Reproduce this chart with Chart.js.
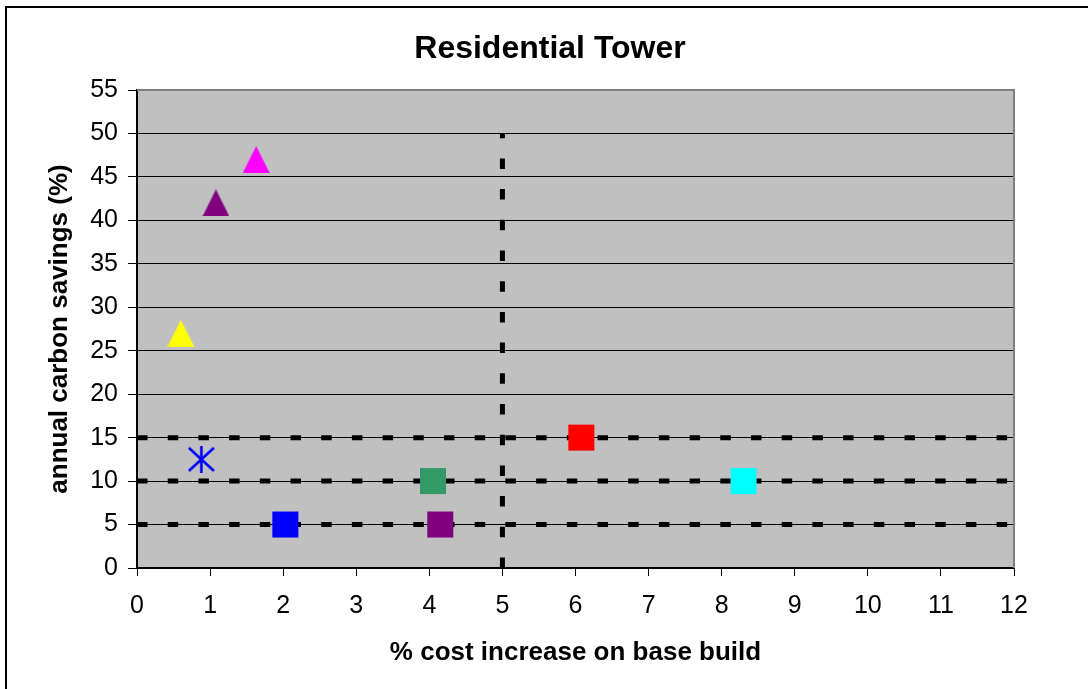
<!DOCTYPE html>
<html>
<head>
<meta charset="utf-8">
<title>Residential Tower</title>
<script src="https://cdn.jsdelivr.net/npm/chart.js@4.4.1/dist/chart.umd.min.js"></script>
<style>
    html, body { margin: 0; padding: 0; background: #fff; overflow: hidden; }
    #frame {
        position: absolute; left: 5px; top: 6px;
        width: 1200px; height: 900px;
        border: 2px solid #000;
    }
    #chart { position: absolute; left: 0; top: 0; }
</style>
</head>
<body>
<div id="frame"></div>
<canvas id="chart" width="1088" height="689"></canvas>
<script>
    // Values
    const costIncrease = [0.6, 1.08, 1.63, 0.88, 2.03, 4.05, 4.15, 6.08, 8.3];
    const carbonSavings = [27, 42, 47, 12.5, 5, 10, 5, 15, 10];
    const markerShapes = ['triangle', 'triangle', 'triangle', 'star', 'square', 'square', 'square', 'square', 'square'];
    const markerColours = ['#FFFF00', '#800080', '#FF00FF', '#0000FF', '#0000FF', '#339966', '#800080', '#FF0000', '#00FFFF'];

    // Dashed reference lines
    const savingsThresholds = [5, 10, 15];
    const costThresholds = [5];
    const costSpan = [0, 12];
    const savingsSpan = [0, 50];

    // Axis ranges
    const xRange = [0, 12];
    const yRange = [0, 55];
    const xStep = 1;
    const yStep = 5;

    const FONT = "'Liberation Sans', Arial, sans-serif";

    function makeTriangle(colour) {
        const c = document.createElement('canvas');
        c.width = 27; c.height = 27;
        const ctx = c.getContext('2d');
        ctx.fillStyle = colour;
        ctx.beginPath();
        ctx.moveTo(13.5, 0);
        ctx.lineTo(27, 27);
        ctx.lineTo(0, 27);
        ctx.closePath();
        ctx.fill();
        return c;
    }

    function makeStar(colour) {
        const c = document.createElement('canvas');
        c.width = 27; c.height = 27;
        const ctx = c.getContext('2d');
        ctx.strokeStyle = colour;
        ctx.lineWidth = 2.6;
        ctx.beginPath();
        ctx.moveTo(13.5, 0); ctx.lineTo(13.5, 27);
        ctx.moveTo(1, 2); ctx.lineTo(26, 25);
        ctx.moveTo(26, 2); ctx.lineTo(1, 25);
        ctx.stroke();
        return c;
    }

    // one dataset per marker, drawn on top of the dashed lines
    const markerSets = costIncrease.map((x, i) => {
        const shape = markerShapes[i];
        const colour = markerColours[i];
        let style = 'rect';
        if (shape === 'triangle') style = makeTriangle(colour);
        if (shape === 'star') style = makeStar(colour);
        return {
            data: [{ x: x, y: carbonSavings[i] }],
            pointStyle: style,
            pointRadius: shape === 'square' ? 18.4 : 13,
            pointBackgroundColor: colour,
            pointBorderWidth: 0,
            order: 1
        };
    });

    const dashStyle = {
        showLine: true,
        borderColor: '#000',
        borderWidth: 5,
        borderDash: [10.5, 20.2],
        borderCapStyle: 'butt',
        pointRadius: 0,
        order: 2
    };

    const lineSets = [];
    savingsThresholds.forEach(v => {
        lineSets.push(Object.assign({
            data: [{ x: costSpan[0], y: v }, { x: costSpan[1], y: v }]
        }, dashStyle));
    });
    costThresholds.forEach(v => {
        lineSets.push(Object.assign({
            data: [{ x: v, y: savingsSpan[0] }, { x: v, y: savingsSpan[1] }]
        }, dashStyle));
    });

    // grey plot area and its grey frame
    const plotArea = {
        id: 'plotArea',
        beforeDraw(chart) {
            const a = chart.chartArea;
            const ctx = chart.ctx;
            ctx.save();
            ctx.fillStyle = '#C0C0C0';
            ctx.fillRect(a.left, a.top, a.right - a.left, a.bottom - a.top);
            ctx.restore();
        },
        beforeDatasetsDraw(chart) {
            const a = chart.chartArea;
            const ctx = chart.ctx;
            ctx.save();
            ctx.strokeStyle = '#808080';
            ctx.lineWidth = 2;
            ctx.beginPath();
            ctx.moveTo(a.left, a.top);
            ctx.lineTo(a.right, a.top);
            ctx.lineTo(a.right, a.bottom);
            ctx.stroke();
            ctx.restore();
        }
    };

    new Chart(document.getElementById('chart').getContext('2d'), {
        type: 'scatter',
        data: { datasets: markerSets.concat(lineSets) },
        options: {
            responsive: false,
            devicePixelRatio: 1,
            animation: false,
            layout: { padding: { left: 86, right: 74, top: 0, bottom: 0 } },
            plugins: {
                legend: { display: false },
                tooltip: { enabled: false },
                title: {
                    display: true,
                    text: 'Residential Tower',
                    color: '#000',
                    font: { family: FONT, size: 32, weight: 'bold' },
                    padding: { top: 30.1, bottom: 21.5 }
                }
            },
            scales: {
                x: {
                    type: 'linear',
                    min: xRange[0],
                    max: xRange[1],
                    afterFit(scale) { scale.height = 121; },
                    ticks: {
                        stepSize: xStep,
                        color: '#000',
                        padding: 15,
                        font: { family: FONT, size: 25 }
                    },
                    grid: {
                        drawOnChartArea: false,
                        drawTicks: true,
                        tickLength: 8,
                        color: '#000'
                    },
                    border: { color: '#000', width: 2 },
                    title: {
                        display: true,
                        text: '% cost increase on base build',
                        color: '#000',
                        font: { family: FONT, size: 26, weight: 'bold' },
                        padding: { top: 0, bottom: 20.4 }
                    }
                },
                y: {
                    type: 'linear',
                    min: yRange[0],
                    max: yRange[1],
                    afterFit(scale) { scale.width = 51; },
                    ticks: {
                        stepSize: yStep,
                        color: '#000',
                        padding: 10,
                        font: { family: FONT, size: 25 }
                    },
                    grid: {
                        color: '#000',
                        lineWidth: 1,
                        tickLength: 9
                    },
                    border: { color: '#000', width: 2 },
                    title: {
                        display: true,
                        text: 'annual carbon savings (%)',
                        color: '#000',
                        font: { family: FONT, size: 26, weight: 'bold' },
                        padding: { top: -41.6, bottom: 0 }
                    }
                }
            }
        },
        plugins: [plotArea]
    });
</script>
</body>
</html>
